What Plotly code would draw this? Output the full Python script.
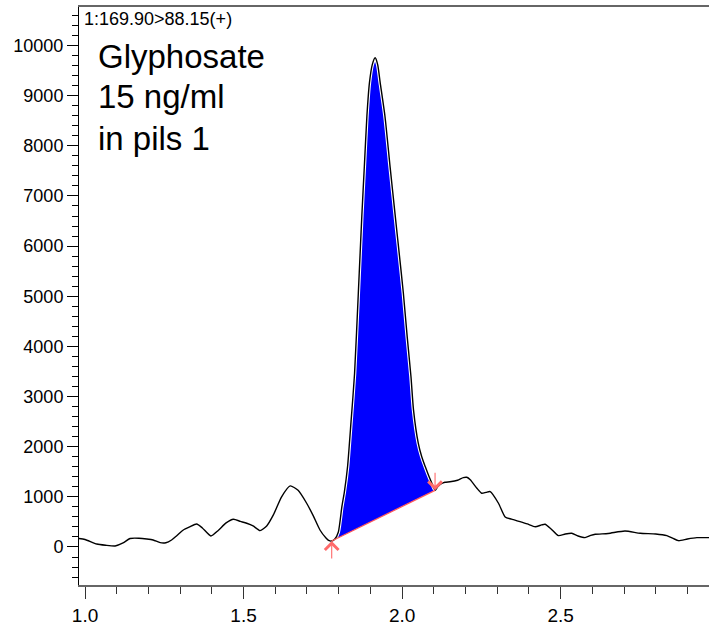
import plotly.graph_objects as go

# Retention time (min) and intensity
time_min = [0.981, 1.000, 1.037, 1.065, 1.095, 1.120, 1.142, 1.170, 1.195, 1.215,
            1.237, 1.255, 1.273, 1.290, 1.310, 1.330, 1.352, 1.370, 1.397, 1.420,
            1.445, 1.468, 1.490, 1.510, 1.530, 1.552, 1.573, 1.594, 1.620, 1.647,
            1.672, 1.699, 1.720, 1.741, 1.760, 1.770, 1.778, 1.788, 1.799, 1.810,
            1.818, 1.828, 1.839, 1.850, 1.862, 1.873, 1.881, 1.889, 1.897, 1.906,
            1.915, 1.923, 1.931, 1.946, 1.962, 1.978, 1.991, 2.004, 2.016, 2.028,
            2.036, 2.051, 2.062, 2.073, 2.084, 2.094, 2.104, 2.112, 2.120, 2.135,
            2.151, 2.175, 2.193, 2.204, 2.215, 2.236, 2.251, 2.265, 2.278, 2.304,
            2.325, 2.345, 2.372, 2.395, 2.420, 2.440, 2.451, 2.470, 2.493, 2.515,
            2.535, 2.555, 2.577, 2.595, 2.609, 2.650, 2.703, 2.751, 2.800, 2.835,
            2.855, 2.872, 2.900, 2.930, 2.968]
intensity = [170, 150, 60, 35, 20, 80, 170, 175, 160, 140,
             86, 85, 140, 230, 339, 400, 459, 380, 220, 330,
             480, 553, 510, 473, 420, 326, 420, 639, 1000, 1218,
             1130, 872, 620, 339, 180, 125, 120, 160, 300, 800,
             1100, 1600, 2500, 3450, 5064, 6600, 7591, 8589, 9255, 9620,
             9755, 9620, 9255, 8589, 7591, 6627, 5850, 5064, 4200, 3400,
             2734, 2070, 1800, 1603, 1420, 1271, 1130, 1200, 1250, 1290,
             1300, 1330, 1383, 1390, 1340, 1171, 1072, 1090, 1104, 872,
             600, 555, 505, 460, 405, 440, 453, 360, 226, 260,
             273, 220, 186, 230, 253, 270, 319, 273, 260, 226,
             170, 126, 160, 186, 186]

# Integration limits (peak start / end on the trace)
peak_start_time = 1.778
peak_end_time = 2.104

trace_label = "1:169.90>88.15(+)"
sample_lines = ["Glyphosate", "15 ng/ml", "in pils 1"]
sample_line_y = [0.914, 0.845, 0.773]

x_ticks = [1.0, 1.5, 2.0, 2.5]

i0 = time_min.index(peak_start_time)
i1 = time_min.index(peak_end_time)
seg_x = time_min[i0:i1 + 1]
seg_y = intensity[i0:i1 + 1]
base_x = [time_min[i0], time_min[i1]]
base_y = [intensity[i0], intensity[i1]]

fig = go.Figure()

# Filled peak area (curve down to the baseline)
fig.add_trace(go.Scatter(
    x=seg_x + [base_x[1], base_x[0]],
    y=seg_y + [base_y[1], base_y[0]],
    fill="toself", fillcolor="#0000ff", mode="lines",
    line=dict(width=0, color="#0000ff"), hoverinfo="skip", showlegend=False))

# White halo + black trace
fig.add_trace(go.Scatter(x=time_min, y=intensity, mode="lines",
                         line=dict(color="white", width=3.5, shape="spline", smoothing=0.6),
                         hoverinfo="skip", showlegend=False))
fig.add_trace(go.Scatter(x=time_min, y=intensity, mode="lines",
                         line=dict(color="black", width=1.4, shape="spline", smoothing=0.6),
                         showlegend=False))

# Red baseline
fig.add_trace(go.Scatter(x=base_x, y=base_y, mode="lines",
                         line=dict(color="#ff5a5a", width=1.3), showlegend=False))

annotations = [
    dict(x=base_x[0], y=base_y[0], xref="x", yref="y", text="", showarrow=True,
         ax=0, ay=19, arrowhead=4, arrowsize=2.4, arrowwidth=1.1,
         arrowcolor="#ff6a6a", standoff=0),
    dict(x=base_x[1], y=base_y[1], xref="x", yref="y", text="", showarrow=True,
         ax=0, ay=-19, arrowhead=4, arrowsize=2.4, arrowwidth=1.1,
         arrowcolor="#ff6a6a", standoff=0),
    dict(x=0.005, y=1.0, xref="paper", yref="paper", xanchor="left", yanchor="top",
         text=trace_label, showarrow=False,
         font=dict(family="Liberation Sans, Arial", size=18, color="black")),
]
for line, ypos in zip(sample_lines, sample_line_y):
    annotations.append(dict(
        x=0.027, y=ypos, xref="paper", yref="paper",
        xanchor="left", yanchor="middle", text=line, showarrow=False,
        font=dict(family="Liberation Sans, Arial", size=33, color="black")))

fig.update_layout(
    width=709, height=625,
    margin=dict(l=79, r=0, t=7, b=40),
    paper_bgcolor="white", plot_bgcolor="white",
    font=dict(family="Liberation Sans, Arial", color="black"),
    annotations=annotations,
    xaxis=dict(range=[0.981, 2.968], tickvals=x_ticks, tickformat=".1f",
               ticks="outside", ticklen=12, tickwidth=1, tickcolor="#333",
               minor=dict(dtick=0.1, tick0=0, ticks="outside", ticklen=7,
                          tickwidth=1, tickcolor="#333"),
               showline=True, linecolor="#666", linewidth=1.5, mirror=True,
               showgrid=False, zeroline=False,
               tickfont=dict(size=19, color="black")),
    yaxis=dict(range=[-758, 10768], dtick=1000, tick0=0, tickformat="d",
               ticks="outside", ticklen=11, tickwidth=1, tickcolor="black",
               minor=dict(dtick=200, tick0=0, ticks="outside", ticklen=6,
                          tickwidth=1, tickcolor="black"),
               showline=True, linecolor="black", linewidth=1,
               showgrid=False, zeroline=False,
               tickfont=dict(size=18, color="black")),
)

fig.write_html("out.html")
